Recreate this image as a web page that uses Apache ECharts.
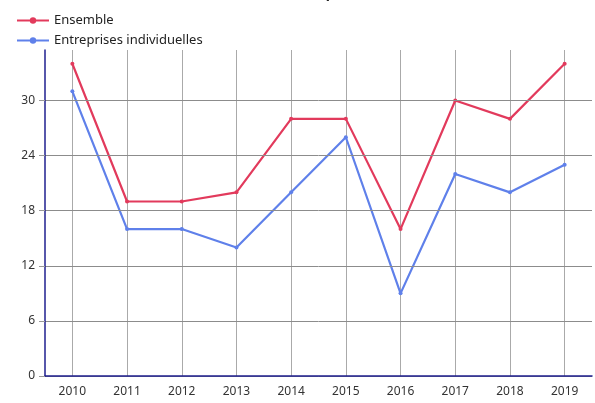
<!DOCTYPE html>
<html lang="fr">
<head>
  <meta charset="UTF-8">
  <title>Chart</title>
  <script src="https://cdn.jsdelivr.net/npm/echarts@6/dist/echarts.min.js"></script>
  <style>
    html, body { margin: 0; padding: 0; background: #fff; }
    #chart { width: 595px; height: 403px; }
  </style>
</head>
<body>
  <div id="chart"></div>
  <script>
    var years = ['2010', '2011', '2012', '2013', '2014', '2015', '2016', '2017', '2018', '2019'];
    var ensemble = [34, 19, 19, 20, 28, 28, 16, 30, 28, 34];
    var individuelles = [31, 16, 16, 14, 20, 26, 9, 22, 20, 23];
    var yTicks = [0, 6, 12, 18, 24, 30];

    var myChart = echarts.init(document.getElementById('chart'));
    var font = 'Noto Sans';

    // half-step helper axis so vertical grid lines sit on the year centres
    var halfSteps = [];
    for (var i = 0; i <= years.length * 2; i++) halfSteps.push(String(i));

    // horizontal grid lines only at the labelled ticks (no line at the top edge)
    var gridLines = yTicks.map(function (v) { return { yAxis: v }; });

    var options = {
      animation: false,
      textStyle: { fontFamily: font },
      title: {
        text: 'Évolution du taux de création des entreprises',
        left: 46,
        top: -18,
        textStyle: { fontSize: 14, fontWeight: 'bold', color: '#222', fontFamily: font }
      },
      legend: {
        orient: 'vertical',
        left: 11,
        top: 9,
        itemWidth: 32,
        itemHeight: 8,
        itemGap: 7,
        textStyle: { fontSize: 13, color: '#222', fontFamily: font },
        data: ['Ensemble', 'Entreprises individuelles']
      },
      grid: { left: 45, right: 3, top: 50, bottom: 27 },
      xAxis: [
        {
          type: 'category',
          data: years,
          boundaryGap: true,
          axisLine: { lineStyle: { color: '#1f1f8f', width: 1.5 } },
          axisTick: { alignWithLabel: true, length: 6, lineStyle: { color: '#aaa' } },
          axisLabel: { color: '#333', fontSize: 12, margin: 10 },
          splitLine: { show: false },
          z: 5
        },
        {
          type: 'category',
          data: halfSteps,
          boundaryGap: false,
          position: 'bottom',
          axisLine: { show: false },
          axisTick: { show: false },
          axisLabel: { show: false },
          splitLine: {
            show: true,
            interval: function (idx) { return idx % 2 === 1; },
            lineStyle: { color: '#aaa', width: 1 }
          }
        }
      ],
      yAxis: {
        type: 'value',
        min: 0,
        max: 35.5,
        interval: 6,
        axisLine: { show: true, lineStyle: { color: '#1f1f8f', width: 1.5 } },
        axisTick: { show: true, length: 6, customValues: yTicks, lineStyle: { color: '#999' } },
        axisLabel: {
          color: '#333', fontSize: 12, margin: 10,
          customValues: yTicks
        },
        splitLine: { show: false },
        z: 5
      },
      series: [
        {
          name: 'grille',
          type: 'line',
          data: [],
          silent: true,
          z: 1,
          markLine: {
            silent: true,
            symbol: 'none',
            label: { show: false },
            lineStyle: { color: '#8c8c8c', width: 1, type: 'solid' },
            data: gridLines
          }
        },
        {
          name: 'Ensemble',
          type: 'line',
          data: ensemble,
          color: '#e23a5c',
          symbol: 'circle',
          symbolSize: 4,
          lineStyle: { width: 2.2 },
          z: 3
        },
        {
          name: 'Entreprises individuelles',
          type: 'line',
          data: individuelles,
          color: '#5f80ea',
          symbol: 'circle',
          symbolSize: 4,
          lineStyle: { width: 2.2 },
          z: 3
        }
      ]
    };

    myChart.setOption(options);
  </script>
</body>
</html>
